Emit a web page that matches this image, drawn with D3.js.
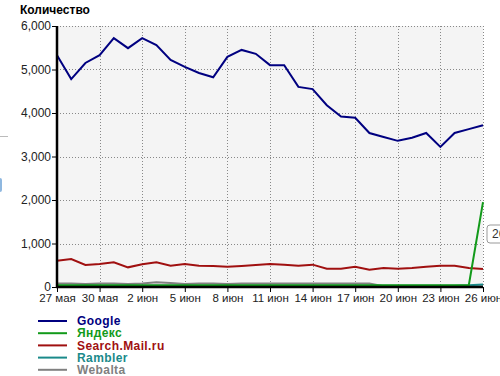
<!DOCTYPE html>
<html>
<head>
<meta charset="utf-8">
<script src="https://cdn.jsdelivr.net/npm/d3@7"></script>
<style>
  body { margin: 0; background: #fff; }
  svg { display: block; font-family: "Liberation Sans", Arial, sans-serif; }
</style>
</head>
<body>
<div id="chart"></div>
<script>
var width = 500, height = 376;

// days 27 мая .. 26 июн, ticks every 3 days
var tickLabels = ["27 мая", "30 мая", "2 июн", "5 июн", "8 июн", "11 июн", "14 июн", "17 июн", "20 июн", "23 июн", "26 июн"];

var google = [5330, 4780, 5150, 5330, 5720, 5490, 5720, 5560, 5220, 5060, 4920, 4820, 5290, 5450, 5360, 5100,
              5100, 4600, 4550, 4180, 3920, 3890, 3540, 3450, 3360, 3430, 3540, 3220, 3540, 3630, 3720];
var yandex = [40, 40, 40, 40, 40, 40, 40, 40, 40, 40, 40, 40, 40, 40, 40, 40,
              40, 40, 40, 40, 40, 40, 40, 40, 40, 40, 40, 40, 40, 40, 1950];
var mailru = [605, 644, 506, 529, 568, 452, 522, 568, 490, 529, 490, 483, 467, 483, 506, 529,
              514, 490, 514, 421, 421, 467, 398, 437, 421, 437, 467, 490, 490, 437, 414];
var rambler = [30, 30, 30, 30, 30, 30, 30, 30, 30, 30, 30, 30, 30, 30, 30, 30,
               30, 30, 30, 30, 30, 30, 30, 30, 30, 30, 30, 30, 30, 40, 60];
var webalta = [80, 80, 70, 80, 80, 70, 80, 110, 90, 70, 80, 80, 70, 80, 80, 80,
               80, 80, 80, 80, 80, 80, 80, 20, 10, 10, 10, 10, 10, 10, 10];

var seriesNames = ["Google", "Яндекс", "Search.Mail.ru", "Rambler", "Webalta"];
var seriesColors = ["#000080", "#129a1a", "#a01010", "#1a8a8a", "#808080"];
var seriesValues = [google, yandex, mailru, rambler, webalta];

var plotLeft = 57, plotRight = 483, plotTop = 26, plotBottom = 287;

var svg = d3.select("#chart").append("svg")
    .attr("width", width)
    .attr("height", height);

var x = d3.scaleLinear().domain([0, 30]).range([plotLeft, plotRight]);
var y = d3.scaleLinear().domain([0, 6000]).range([plotBottom, plotTop]);

// leftovers of the page behind
svg.append("line").attr("x1", 0).attr("x2", 8).attr("y1", 136.5).attr("y2", 136.5)
    .style("stroke", "#bbb").style("stroke-width", 1);
svg.append("rect").attr("x", -3).attr("y", 178).attr("width", 5).attr("height", 14).attr("rx", 2)
    .style("fill", "#8fb8e0");

svg.append("text")
    .attr("x", 20)
    .attr("y", 14)
    .style("font-weight", "bold")
    .style("font-size", "12px")
    .text("Количество");

svg.append("rect")
    .attr("x", plotLeft)
    .attr("y", plotTop)
    .attr("width", plotRight - plotLeft)
    .attr("height", plotBottom - plotTop)
    .style("fill", "#f4f4f4");

var tickIdx = d3.range(0, 31, 3);

// grid
svg.append("g").selectAll("line")
    .data(tickIdx.slice(1))
    .join("line")
    .attr("x1", d => Math.round(x(d)) + 0.5)
    .attr("x2", d => Math.round(x(d)) + 0.5)
    .attr("y1", plotTop)
    .attr("y2", plotBottom)
    .style("stroke", "#888")
    .style("stroke-dasharray", "1,2");

svg.append("g").selectAll("line")
    .data(d3.range(1000, 6001, 1000))
    .join("line")
    .attr("x1", plotLeft)
    .attr("x2", plotRight)
    .attr("y1", d => Math.round(y(d)) + 0.5)
    .attr("y2", d => Math.round(y(d)) + 0.5)
    .style("stroke", "#888")
    .style("stroke-dasharray", "1,2");

// series
var line = d3.line()
    .x((d, i) => x(i))
    .y(d => y(d));

var drawOrder = [4, 3, 2, 1, 0];
drawOrder.forEach(function(k) {
    svg.append("path")
        .datum(seriesValues[k])
        .attr("d", line)
        .style("fill", "none")
        .style("stroke", seriesColors[k])
        .style("stroke-width", 2);
});

// axes
var yAxis = svg.append("g")
    .attr("transform", "translate(" + plotLeft + ",0)")
    .call(d3.axisLeft(y).tickValues(d3.range(0, 6001, 1000)).tickSize(5).tickFormat(d3.format(",")));
yAxis.select(".domain").remove();
yAxis.selectAll("text").style("font-size", "12px").style("fill", "#222").attr("x", -6);

var xAxis = svg.append("g")
    .attr("transform", "translate(0," + plotBottom + ")")
    .call(d3.axisBottom(x).tickValues(tickIdx).tickSize(5).tickFormat((d, i) => tickLabels[i]));
xAxis.select(".domain").remove();
xAxis.selectAll("text").style("font-size", "11.5px").style("fill", "#222").attr("y", 7);

svg.append("line")
    .attr("x1", plotLeft).attr("x2", plotLeft)
    .attr("y1", plotTop).attr("y2", plotBottom + 1)
    .style("stroke", "#000").style("stroke-width", 2.5);
svg.append("line")
    .attr("x1", plotLeft - 1).attr("x2", plotRight)
    .attr("y1", plotBottom).attr("y2", plotBottom)
    .style("stroke", "#000").style("stroke-width", 2.5);

// tooltip (cut off by the window edge)
var tip = svg.append("g").attr("transform", "translate(487,225)");
tip.append("rect")
    .attr("width", 80).attr("height", 18).attr("rx", 3)
    .style("fill", "#fff").style("stroke", "#999");
tip.append("text")
    .attr("x", 5).attr("y", 13)
    .style("font-size", "12px")
    .style("fill", "#333")
    .text("26 июн: 1,950");

// legend
var legend = svg.append("g").selectAll("g")
    .data(seriesNames)
    .join("g")
    .attr("transform", (d, i) => "translate(38," + (321 + i * 12.2) + ")");
legend.append("line")
    .attr("x1", 0).attr("x2", 29)
    .style("stroke", (d, i) => seriesColors[i])
    .style("stroke-width", 2);
legend.append("text")
    .attr("x", 39)
    .attr("dy", "0.35em")
    .style("font-weight", "bold")
    .style("font-size", "12px")
    .style("letter-spacing", "0.4px")
    .style("fill", (d, i) => seriesColors[i])
    .text(d => d);
</script>
</body>
</html>
